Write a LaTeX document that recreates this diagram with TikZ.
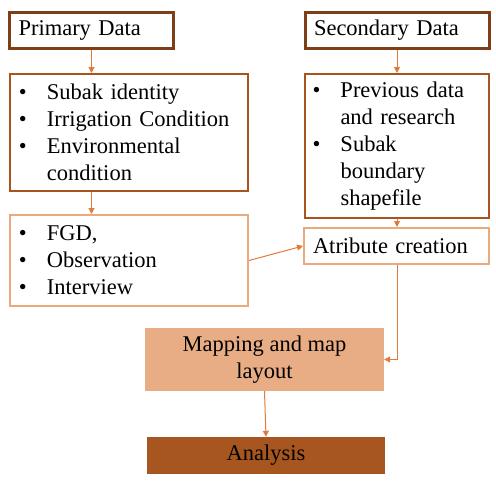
\documentclass[tikz,border=0pt]{standalone}
\usepackage{fontspec}
\setmainfont{Liberation Serif}
\usepackage{xcolor}
\usetikzlibrary{arrows.meta,positioning,calc}

\definecolor{darkbrown}{HTML}{7F3F16}
\definecolor{midbrown}{HTML}{A9531E}
\definecolor{lightline}{HTML}{EBAA7D}
\definecolor{mapfill}{HTML}{E8AD84}
\definecolor{anafill}{HTML}{A8561F}
\definecolor{arrowcol}{HTML}{E07B39}

\newcommand{\bul}{\makebox[28pt][l]{\textbullet}}

\tikzset{
  every node/.style={font=\fontsize{22.5}{27}\selectfont, inner ysep=0pt},
  headbox/.style={draw=darkbrown, line width=3pt, minimum height=36pt, align=left, inner xsep=9pt},
  listbox/.style={draw=midbrown, line width=2pt, align=left, inner xsep=9pt},
  lightbox/.style={draw=lightline, line width=2pt, align=left, inner xsep=9pt},
  flow/.style={->, arrowcol, line width=1pt}
}

\begin{document}
\begin{tikzpicture}[x=1pt, y=-1pt, >={Triangle[length=6pt,width=6pt]}]
\useasboundingbox (0,0) rectangle (496,482);

% Data sources
\node [headbox, text width=146pt] (prim) at (91.5, 30) {Primary Data};
\node [headbox, text width=166pt] (sec) at (397, 30) {Secondary Data};

% Data lists
\node [listbox, text width=220pt, minimum height=117pt] (plist) at (129, 132.5)
  {\bul Subak identity\\ \bul Irrigation Condition\\ \bul Environmental\\ \makebox[28pt]{}condition};
\node [listbox, text width=168pt, minimum height=144pt, inner xsep=8pt] (slist) at (396.5, 146)
  {\bul Previous data\\ \makebox[28pt]{}and research\\ \bul Subak\\ \makebox[28pt]{}boundary\\ \makebox[28pt]{}shapefile};

% Collection and attributes
\node [lightbox, text width=220pt, minimum height=91pt] (fgd) at (129, 260.5)
  {\bul FGD,\\ \bul Observation\\ \bul Interview};
\node [lightbox, text width=167pt, minimum height=36pt] (attr) at (396.5, 246) {Atribute creation};

% Output
\node [fill=mapfill, minimum width=239pt, minimum height=63pt, align=center] (map) at (264.5, 359.5)
  {Mapping and map\\ layout};
\node [fill=anafill, minimum width=238pt, minimum height=37pt] (ana) at (266, 455.5) {Analysis};

% Connections
\draw [flow] (prim.south) -- (prim.south |- plist.north);
\draw [flow] (sec.south) -- (sec.south |- slist.north);
\draw [flow] (prim.south |- plist.south) -- (prim.south |- fgd.north);
\draw [flow] (sec.south |- slist.south) -- (sec.south |- attr.north);
\draw [flow] (fgd.east) -- (attr.west);
\draw [flow] (sec.south |- attr.south) |- (map.east);
\draw [flow] (map.south) -- (ana.north);
\end{tikzpicture}
\end{document}
